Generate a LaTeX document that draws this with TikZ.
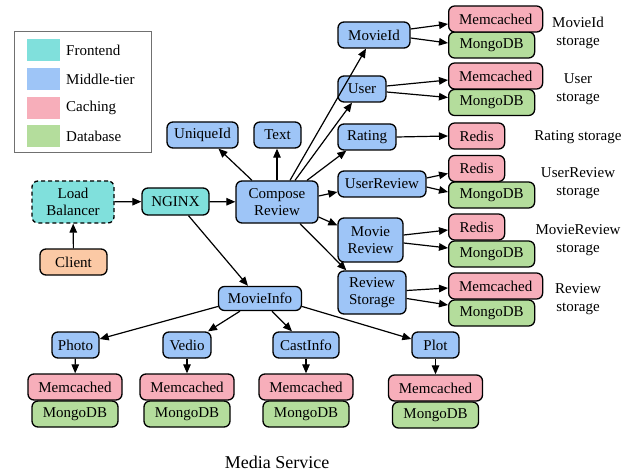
\documentclass[tikz,border=0pt]{standalone}
\usepackage{fontspec}
\setmainfont{Liberation Serif}
\newfontfamily\tnr{Liberation Serif}
\usetikzlibrary{arrows.meta}
\definecolor{cfront}{HTML}{80E0DC}
\definecolor{cmid}{HTML}{9EC5F7}
\definecolor{ccache}{HTML}{F7AEBA}
\definecolor{cdb}{HTML}{B4DD9C}
\definecolor{cclient}{HTML}{FBC9A5}
\definecolor{cleg}{HTML}{707070}
\tikzset{
  box/.style={draw=black, line width=1.3pt, rounded corners=6pt, inner sep=0pt, align=center,
    font=\tnr\fontsize{15}{17}\selectfont, minimum height=26pt},
  front/.style={box, fill=cfront},
  mid/.style={box, fill=cmid},
  cache/.style={box, fill=ccache},
  db/.style={box, fill=cdb},
  clientbox/.style={box, fill=cclient},
  mc/.style={cache, minimum width=94pt},
  mg/.style={db, minimum width=86pt},
  rd/.style={cache, minimum width=56pt},
  lbl/.style={align=center, font=\tnr\fontsize{15}{18}\selectfont, inner sep=0pt},
  arr/.style={line width=1.2pt, -{Triangle[length=9pt,width=7.5pt]}},
  swatch/.style={minimum width=33pt, minimum height=22pt, inner sep=0pt},
  legtxt/.style={anchor=west, font=\tnr\fontsize{15}{17}\selectfont, inner sep=0pt},
}
\begin{document}
\begin{tikzpicture}[x=1pt, y=-1pt]
\useasboundingbox (0,0) rectangle (634,473);
% legend
\node[draw=cleg, line width=1pt, minimum width=137pt, minimum height=121pt, inner sep=0pt] (legend) at (82.5,92.5) {};
\node[swatch, fill=cfront] (s1) at (43.5,50) {};
\node[swatch, fill=cmid] (s2) at (43.5,79) {};
\node[swatch, fill=ccache] (s3) at (43.5,108) {};
\node[swatch, fill=cdb] (s4) at (43.5,136) {};
\node[legtxt] (l1) at (66,50) {Frontend};
\node[legtxt] (l2) at (66,79) {Middle-tier};
\node[legtxt] (l3) at (66,108) {Caching};
\node[legtxt] (l4) at (66,136) {Database};

% frontend
\node[front, dashed, dash pattern=on 4pt off 3pt, minimum width=82pt, minimum height=42pt] (lb) at (73,202) {Load\\Balancer};
\node[clientbox, minimum width=67pt] (client) at (73.5,262) {Client};
\node[front, minimum width=67pt, minimum height=27pt] (nginx) at (175.5,201.5) {NGINX};
\node[mid, minimum width=82pt, minimum height=42pt] (compose) at (277,202) {Compose\\Review};
\node[mid, minimum width=71pt] (uniqueid) at (202.5,135) {UniqueId};
\node[mid, minimum width=47pt] (text) at (277.5,135) {Text};

% middle column
\node[mid, minimum width=72pt] (movieid) at (374,35) {MovieId};
\node[mid, minimum width=48pt] (user) at (362,89) {User};
\node[mid, minimum width=58pt] (rating) at (367,137) {Rating};
\node[mid, minimum width=88pt] (userreview) at (382,184) {UserReview};
\node[mid, minimum width=65pt, minimum height=44pt] (moviereview) at (370.5,240) {Movie\\Review};
\node[mid, minimum width=68pt, minimum height=43pt] (reviewstorage) at (372,292.5) {Review\\Storage};

% storage column
\node[mg, anchor=west] (mg1) at (448,45) {MongoDB};
\node[mc, anchor=west] (mc1) at (448,19) {Memcached};
\node[mg, anchor=west] (mg2) at (448,102.5) {MongoDB};
\node[mc, anchor=west] (mc2) at (448,76) {Memcached};
\node[rd, anchor=west] (rd1) at (448,136) {Redis};
\node[mg, anchor=west] (mg3) at (448,195) {MongoDB};
\node[rd, anchor=west] (rd2) at (448,168.5) {Redis};
\node[mg, anchor=west] (mg4) at (448,254) {MongoDB};
\node[rd, anchor=west] (rd3) at (448,227) {Redis};
\node[mg, anchor=west] (mg5) at (448,313) {MongoDB};
\node[mc, anchor=west] (mc5) at (448,286) {Memcached};

% storage labels
\node[lbl] (t1) at (578,33) {MovieId\\storage};
\node[lbl] (t2) at (578,89) {User\\storage};
\node[lbl] (t3) at (578,137) {Rating storage};
\node[lbl] (t4) at (578,183) {UserReview\\storage};
\node[lbl] (t5) at (578,240) {MovieReview\\storage};
\node[lbl] (t6) at (578,299) {Review\\storage};

% movie info
\node[mid, minimum width=83pt, minimum height=24pt] (movieinfo) at (260,298.5) {MovieInfo};
\node[mid, minimum width=47pt] (photo) at (75.5,345) {Photo};
\node[mid, minimum width=48pt] (vedio) at (187,345) {Vedio};
\node[mid, minimum width=66pt] (castinfo) at (306,345) {CastInfo};
\node[mid, minimum width=47pt] (plot) at (435.5,345) {Plot};

\node[mg] (bmg1) at (75,414) {MongoDB};
\node[mc] (bmc1) at (75,387) {Memcached};
\node[mg] (bmg2) at (187,414) {MongoDB};
\node[mc] (bmc2) at (187,387) {Memcached};
\node[mg] (bmg3) at (306,414) {MongoDB};
\node[mc] (bmc3) at (306,387) {Memcached};
\node[mg] (bmg4) at (435.5,415) {MongoDB};
\node[mc] (bmc4) at (435.5,388) {Memcached};

\node[inner sep=0pt, font=\tnr\fontsize{18}{20}\selectfont] (caption) at (277,462) {Media Service};

% arrows
\draw[arr] (client) -- (lb);
\draw[arr] (lb) -- (nginx);
\draw[arr] (nginx) -- (compose);
\draw[arr] ([xshift=13pt]nginx.south) -- ([xshift=-12pt]movieinfo.north);
\draw[arr] ([xshift=-25pt]compose.north) -- ([xshift=16pt]uniqueid.south);
\draw[arr] (compose.north) -- (compose.north |- text.south);
\draw[arr] ([xshift=13pt]compose.north) -- ([xshift=-8pt]movieid.south);
\draw[arr] ([xshift=18pt]compose.north) -- ([xshift=-10pt]user.south);
\draw[arr] ([xshift=30pt]compose.north) -- ([xshift=9pt]rating.south west);
\draw[arr] ([yshift=6pt]compose.east) -- ([yshift=-8pt]userreview.west);
\draw[arr] ([yshift=-15pt]compose.east) -- ([yshift=-8pt]moviereview.north west);
\draw[arr] ([xshift=23pt]compose.south) -- ([xshift=9pt]reviewstorage.north west);

\draw[arr] ([yshift=6pt]movieid.east) -- ([yshift=-5pt]mc1.west);
\draw[arr] ([yshift=-3pt]movieid.east) -- ([yshift=2pt]mg1.west);
\draw[arr] ([yshift=3pt]user.east) -- ([yshift=-4pt]mc2.west);
\draw[arr] ([yshift=-3pt]user.east) -- ([yshift=5pt]mg2.west);
\draw[arr] (rating.east) -- (rd1.west);
\draw[arr] ([yshift=6pt]userreview.east) -- ([yshift=-5pt]rd2.west);
\draw[arr] ([yshift=-3pt]userreview.east) -- ([yshift=3pt]mg3.west);
\draw[arr] ([yshift=5pt]moviereview.east) -- ([yshift=-3pt]rd3.west);
\draw[arr] ([yshift=-3pt]moviereview.east) -- ([yshift=6pt]mg4.west);
\draw[arr] ([yshift=2pt]reviewstorage.east) -- ([yshift=-2pt]mc5.west);
\draw[arr] ([yshift=-6pt]reviewstorage.east) -- ([yshift=8pt]mg5.west);

\draw[arr] ([yshift=-8pt]movieinfo.west) -- ([yshift=6pt]photo.east);
\draw[arr] ([xshift=-20pt]movieinfo.south) -- ([xshift=21pt]vedio.north);
\draw[arr] ([xshift=12pt]movieinfo.south) -- ([xshift=-14pt]castinfo.north);
\draw[arr] ([yshift=-8pt]movieinfo.east) -- ([yshift=6pt]plot.west);

\draw[arr] (photo) -- (bmc1);
\draw[arr] (vedio) -- (bmc2);
\draw[arr] (castinfo) -- (bmc3);
\draw[arr] (plot) -- (bmc4);
\end{tikzpicture}
\end{document}
